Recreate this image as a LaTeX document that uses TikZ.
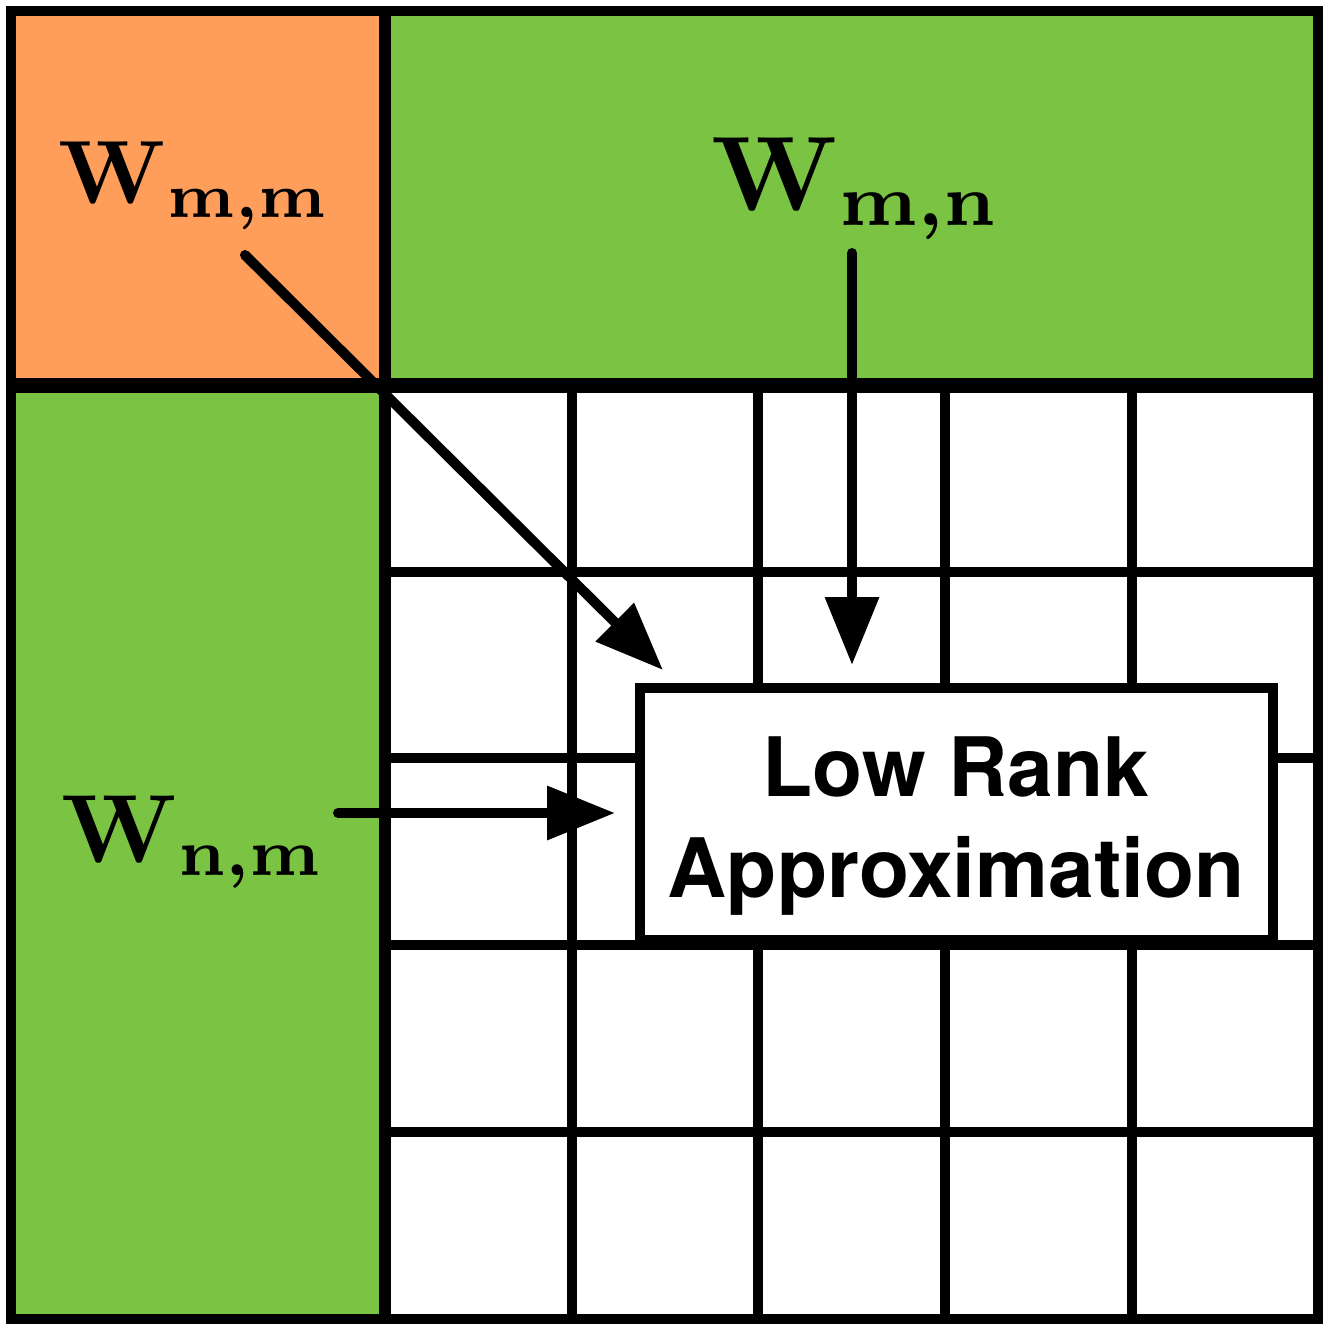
\documentclass[tikz,border=0pt]{standalone}
\usepackage{fontspec}
\usetikzlibrary{arrows.meta}
\newfontfamily\helv{TeX Gyre Heros}
\definecolor{orng}{HTML}{FF9E5A}
\definecolor{grn}{HTML}{7AC343}
\font\WmmW=cmbx10 at 90pt
\font\WmmS=cmbx7 at 63pt
\font\WmnW=cmbx10 at 106pt
\font\WmnS=cmbx7 at 73pt
\font\WnmW=cmbx10 at 97pt
\font\WnmS=cmbx7 at 66pt
\begin{document}
\begin{tikzpicture}[x=1pt,y=-1pt,
  gridline/.style={line width=10pt},
  divide/.style={line width=12pt},
  arr/.style={line width=10pt, line cap=round, -{Triangle[length=68pt,width=52pt]}},
  wlabel/.style={anchor=base west, inner sep=0pt, outer sep=0pt},
  lrabox/.style={draw, fill=white, line width=10pt, minimum width=633pt, minimum height=252pt, inner sep=0pt},
  lratext/.style={font=\helv\bfseries\fontsize{82}{101}\selectfont, align=center, inner sep=0pt}]
\useasboundingbox (0,0) rectangle (1331,1323);
% fills
\fill[orng] (11,11) rectangle (385,385);
\fill[grn] (385,11) rectangle (1318,385);
\fill[grn] (11,385) rectangle (385,1319);
\fill[white] (385,385) rectangle (1318,1319);
% grid
\foreach \x in {572,758,945,1132} \draw[gridline] (\x,385) -- (\x,1319);
\foreach \y in {572,758,945,1132} \draw[gridline] (385,\y) -- (1318,\y);
% divides and border
\draw[divide] (385,11) -- (385,1319);
\draw[line width=15pt] (11,385) -- (1318,385);
\draw[line width=10pt, line join=miter] (11,11) rectangle (1318,1319);
% labels
\node[wlabel] (wmm) at (58,203) {\WmmW W\kern3pt\raisebox{-14pt}{\WmmS m,m}};
\node[wlabel] (wmn) at (711,210) {\WmnW W\kern2pt\raisebox{-15pt}{\WmnS m,n}};
\node[wlabel] (wnm) at (61,862) {\WnmW W\kern2pt\raisebox{-13pt}{\WnmS n,m}};
% low rank box
\node[lrabox] (lra) at (956.5,814) {};
\node[lratext] (lratxt) at (956,826) {Low Rank\\Approximation};
% arrows
\coordinate (a1s) at (245,255);
\coordinate (a1e) at (663,670);
\coordinate (a2s) at (852,253);
\coordinate (a3s) at (338,813);
\draw[arr] (a1s) -- (a1e);
\draw[arr, shorten >=18pt] (a2s) -- (a2s |- lra.north);
\draw[arr, shorten >=20pt] (a3s) -- (a3s -| lra.west);
\end{tikzpicture}
\end{document}
